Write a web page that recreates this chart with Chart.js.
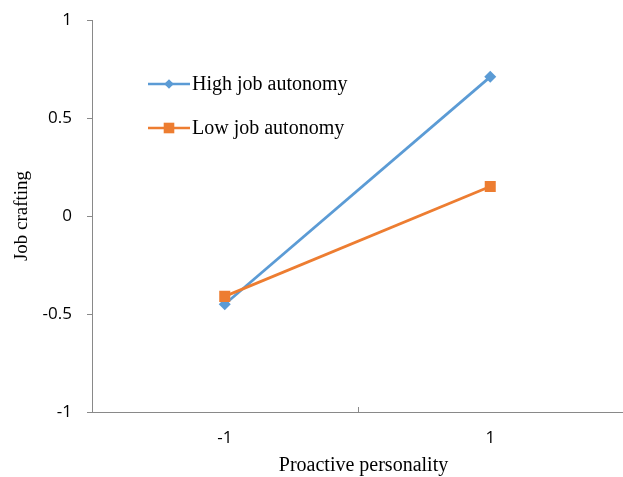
<!DOCTYPE html>
<html>
<head>
<meta charset="utf-8">
<script src="https://cdn.jsdelivr.net/npm/chart.js@4/dist/chart.umd.min.js"></script>
<style>
html,body{margin:0;padding:0;background:#fff;}
#wrap{width:623px;height:477px;position:relative;}
</style>
</head>
<body>
<div id="wrap"><canvas id="c" width="623" height="477"></canvas></div>
<script>
const categories = ['-1', '1'];
const seriesNames = ['High job autonomy', 'Low job autonomy'];
const highAutonomy = [-0.45, 0.71];
const lowAutonomy = [-0.41, 0.15];
const yTicks = [-1, -0.5, 0, 0.5, 1];
const yTickLabels = ['-1', '-0.5', '0', '0.5', '1'];
const xTitle = 'Proactive personality';
const yTitle = 'Job crafting';

const BLUE = '#5B9BD5';
const ORANGE = '#ED7D31';
const AXIS = '#898989';
const SERIF = '"Liberation Serif", "Times New Roman", serif';

const legendPlugin = {
  id: 'customLegend',
  afterDraw(chart) {
    const ctx = chart.ctx;
    const a = chart.chartArea;
    const items = [
      {label: seriesNames[0], color: BLUE, style: 'rectRot', r: 4.8, dy: 64},
      {label: seriesNames[1], color: ORANGE, style: 'rect', r: 7.5, dy: 108}
    ];
    ctx.save();
    items.forEach(it => {
      const y = a.top + it.dy;
      const x0 = a.left + 56, x1 = a.left + 98;
      ctx.strokeStyle = it.color;
      ctx.lineWidth = 2.5;
      ctx.beginPath(); ctx.moveTo(x0, y); ctx.lineTo(x1, y); ctx.stroke();
      ctx.fillStyle = it.color;
      Chart.helpers.drawPoint(ctx, {pointStyle: it.style, radius: it.r, borderWidth: 0}, (x0 + x1) / 2, y);
      ctx.fillStyle = '#000';
      ctx.font = '20px ' + SERIF;
      ctx.textBaseline = 'middle';
      ctx.textAlign = 'left';
      ctx.fillText(it.label, x1 + 2, y + 1);
    });
    // x axis title
    ctx.font = '20px ' + SERIF;
    ctx.textAlign = 'center';
    ctx.textBaseline = 'middle';
    ctx.fillText(xTitle, (a.left + a.right) / 2 + 6, chart.height - 11);
    ctx.restore();
  }
};

const xTickPlugin = {
  id: 'xTicksUp',
  afterDraw(chart) {
    const xs = chart.scales.x;
    const ctx = chart.ctx;
    const bottom = chart.chartArea.bottom;
    const p0 = xs.getPixelForTick(0), p1 = xs.getPixelForTick(1);
    const mids = [(p0 + p1) / 2];
    ctx.save();
    ctx.strokeStyle = AXIS;
    ctx.lineWidth = 1;
    mids.forEach(m => {
      const x = Math.round(m) + 0.5;
      ctx.beginPath(); ctx.moveTo(x, bottom); ctx.lineTo(x, bottom - 5); ctx.stroke();
    });
    ctx.restore();
  }
};

new Chart(document.getElementById('c'), {
  type: 'line',
  data: {
    labels: categories,
    datasets: [
      {
        label: seriesNames[0], data: highAutonomy, borderColor: BLUE, backgroundColor: BLUE,
        borderWidth: 2.75, pointStyle: 'rectRot', pointRadius: 6, pointBorderWidth: 0,
        order: 1, tension: 0
      },
      {
        label: seriesNames[1], data: lowAutonomy, borderColor: ORANGE, backgroundColor: ORANGE,
        borderWidth: 2.75, pointStyle: 'rect', pointRadius: 7.8, pointBorderWidth: 0,
        order: 0, tension: 0
      }
    ]
  },
  options: {
    responsive: false,
    animation: false,
    devicePixelRatio: 1,
    layout: {autoPadding: false, padding: {top: 20, right: 0, bottom: 0, left: 0}},
    plugins: {legend: {display: false}, tooltip: {enabled: false}},
    scales: {
      x: {
        type: 'category',
        offset: true,
        grid: {display: true, offset: true, drawOnChartArea: false, drawTicks: false},
        border: {display: true, color: AXIS, width: 1},
        ticks: {
          color: '#000', padding: 16,
          font: {family: '"Open Sans", "Liberation Sans", sans-serif', size: 17}
        },
        title: {display: false, text: xTitle},
        afterFit(s) { s.height = 65; s.paddingLeft = 0; s.paddingRight = 0; }
      },
      y: {
        min: -1, max: 1,
        afterBuildTicks(s) { s.ticks = yTicks.map(v => ({value: v})); },
        grid: {display: true, drawOnChartArea: false, drawTicks: true, tickLength: 5, color: AXIS},
        border: {display: true, color: AXIS, width: 1},
        ticks: {
          color: '#000', padding: 15,
          font: {family: '"Open Sans", "Liberation Sans", sans-serif', size: 17},
          callback(v) { const i = yTicks.indexOf(v); return i >= 0 ? yTickLabels[i] : ''; }
        },
        title: {
          display: true, text: yTitle, color: '#000',
          font: {family: SERIF, size: 19},
          padding: {top: 11, bottom: 0}
        },
        afterFit(s) { s.width = 92; s.paddingTop = 0; s.paddingBottom = 0; }
      }
    }
  },
  plugins: [legendPlugin, xTickPlugin]
});
</script>
</body>
</html>
